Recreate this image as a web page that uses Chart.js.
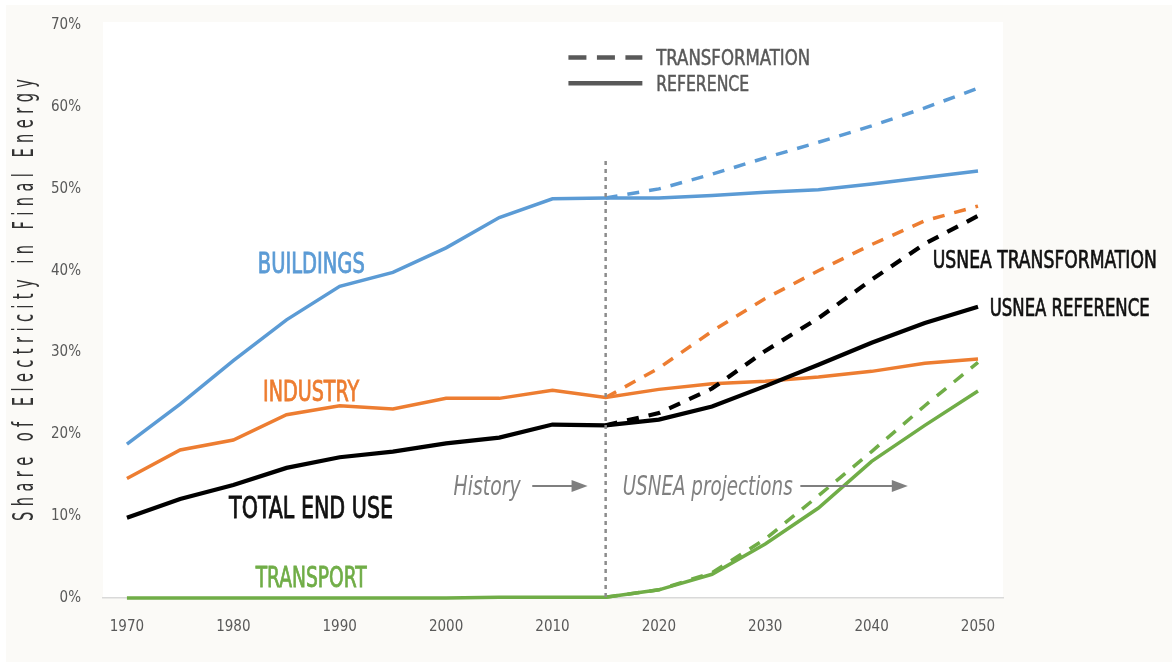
<!DOCTYPE html>
<html lang="en">
<head>
  <meta charset="UTF-8" />
  <title>Share of Electricity in Final Energy</title>
  <script src="https://cdn.jsdelivr.net/npm/chart.js"></script>
  <style>
    body { margin: 0; background: #fff; }
    canvas { display: block; }
  </style>
</head>
<body>
  <canvas id="chart" width="1172" height="664"></canvas>
  <script>
    // history + reference years, and the transformation years
    const years = [1970, 1975, 1980, 1985, 1990, 1995, 2000, 2005, 2010, 2015, 2020, 2025, 2030, 2035, 2040, 2045, 2050];
    const projYears = [2015, 2020, 2025, 2030, 2035, 2040, 2045, 2050];
    const xTicks = [1970, 1980, 1990, 2000, 2010, 2020, 2030, 2040, 2050];
    const yTicks = [0, 10, 20, 30, 40, 50, 60, 70];

    // reference (solid)
    const buildingsRef = [18.8, 23.7, 29.0, 34.0, 38.1, 39.8, 42.8, 46.5, 48.8, 48.9, 48.9, 49.2, 49.6, 49.9, 50.6, 51.4, 52.2];
    const industryRef = [14.6, 18.1, 19.3, 22.4, 23.5, 23.1, 24.4, 24.4, 25.4, 24.5, 25.5, 26.2, 26.5, 27.0, 27.7, 28.7, 29.2];
    const totalRef = [9.8, 12.1, 13.8, 15.9, 17.2, 17.9, 18.9, 19.6, 21.2, 21.1, 21.8, 23.4, 25.9, 28.5, 31.2, 33.6, 35.6];
    const transportRef = [0, 0, 0, 0, 0, 0, 0, 0.1, 0.1, 0.1, 1.0, 2.9, 6.6, 11.0, 16.7, 21.1, 25.3];

    // transformation (dashed)
    const buildingsTr = [48.9, 50.0, 51.8, 53.8, 55.7, 57.7, 59.9, 62.3];
    const industryTr = [24.5, 28.1, 32.6, 36.6, 40.0, 43.2, 46.1, 47.9];
    const totalTr = [21.1, 22.6, 25.6, 30.2, 34.2, 38.9, 43.3, 46.7];
    const transportTr = [0.1, 1.0, 3.1, 7.2, 12.5, 17.9, 23.5, 28.8];

    const historyEnd = 2015;

    const BLUE = '#5b9bd5', ORANGE = '#ed7d31', BLACK = '#000000', GREEN = '#70ad47';
    const FONT = "'DejaVu Sans Condensed', 'Liberation Sans Narrow', sans-serif";

    function pts(xs, ys) {
      return xs.map((x, i) => ({ x: x, y: ys[i] }));
    }

    function ref(data, color, w) {
      return { data: pts(years, data), borderColor: color, borderWidth: w, pointRadius: 0, tension: 0, fill: false, clip: false };
    }
    function tr(data, color, w) {
      return { data: pts(projYears, data), borderColor: color, borderWidth: w, borderDash: [12, 10], pointRadius: 0, tension: 0, fill: false, clip: false };
    }

    // text squeezed to a given width (the original type is a narrow condensed face)
    function text(ctx, str, x, y, font, color, width, weight) {
      ctx.save();
      ctx.font = font;
      ctx.fillStyle = color;
      ctx.strokeStyle = color;
      ctx.textAlign = 'left';
      ctx.textBaseline = 'alphabetic';
      const w = ctx.measureText(str).width;
      ctx.translate(x, y);
      if (width) ctx.scale(width / w, 1);
      ctx.fillText(str, 0, 0);
      if (weight) {
        ctx.lineWidth = weight;
        ctx.strokeText(str, 0, 0);
      }
      ctx.restore();
    }

    function arrow(ctx, x1, x2, y) {
      ctx.save();
      ctx.strokeStyle = '#7f7f7f';
      ctx.fillStyle = '#7f7f7f';
      ctx.lineWidth = 2;
      ctx.beginPath();
      ctx.moveTo(x1, y);
      ctx.lineTo(x2 - 14, y);
      ctx.stroke();
      ctx.beginPath();
      ctx.moveTo(x2 - 16, y - 6);
      ctx.lineTo(x2, y);
      ctx.lineTo(x2 - 16, y + 6);
      ctx.closePath();
      ctx.fill();
      ctx.restore();
    }

    const backdrop = {
      id: 'backdrop',
      beforeDraw(chart) {
        const { ctx, chartArea: a } = chart;
        ctx.save();
        ctx.fillStyle = '#ffffff';
        ctx.fillRect(0, 0, chart.width, chart.height);
        ctx.fillStyle = '#fbfaf7';
        ctx.fillRect(6, 5, chart.width - 6, chart.height - 7);
        ctx.fillStyle = '#ffffff';
        ctx.fillRect(a.left, a.top, a.right - a.left, a.bottom - a.top);
        ctx.restore();
      }
    };

    const notes = {
      id: 'notes',
      afterDatasetsDraw(chart) {
        const { ctx, scales: { x, y } } = chart;
        const X = v => x.getPixelForValue(v);
        const Y = v => y.getPixelForValue(v);

        // history / projection divider
        ctx.save();
        ctx.strokeStyle = '#8c8c8c';
        ctx.lineWidth = 2.5;
        ctx.setLineDash([4, 4]);
        ctx.beginPath();
        ctx.moveTo(X(historyEnd), Y(53.4));
        ctx.lineTo(X(historyEnd), Y(0));
        ctx.stroke();
        ctx.restore();

        // sector labels
        text(ctx, 'BUILDINGS', X(1982.3), Y(39.7), '28px ' + FONT, BLUE, 107, 0.8);
        text(ctx, 'INDUSTRY', X(1982.8), Y(24.1), '28px ' + FONT, ORANGE, 96, 0.8);
        text(ctx, 'TOTAL END USE', X(1979.6), Y(9.8), '30px ' + FONT, '#111111', 164, 0.8);
        text(ctx, 'TRANSPORT', X(1982.1), Y(1.3), '28px ' + FONT, GREEN, 111, 0.8);

        // history / projections
        text(ctx, 'History', X(2000.7), Y(12.6), 'italic 27px ' + FONT, '#808080', 67);
        arrow(ctx, X(2008.1), X(2013.3), Y(13.7));
        text(ctx, 'USNEA projections', X(2016.6), Y(12.6), 'italic 27px ' + FONT, '#808080', 170);
        arrow(ctx, X(2033.3), X(2043.4), Y(13.7));

        // legend
        ctx.save();
        ctx.strokeStyle = '#595959';
        ctx.lineWidth = 4.5;
        ctx.setLineDash([18, 10.5]);
        ctx.beginPath();
        ctx.moveTo(X(2011.5), Y(66.05));
        ctx.lineTo(X(2018.45), Y(66.05));
        ctx.stroke();
        ctx.setLineDash([]);
        ctx.beginPath();
        ctx.moveTo(X(2011.5), Y(62.9));
        ctx.lineTo(X(2018.45), Y(62.9));
        ctx.stroke();
        ctx.restore();
        text(ctx, 'TRANSFORMATION', X(2019.75), Y(65.2), '22px ' + FONT, '#595959', 154, 0.5);
        text(ctx, 'REFERENCE', X(2019.75), Y(62.0), '22px ' + FONT, '#595959', 93, 0.5);

        // total end use labels
        text(ctx, 'USNEA TRANSFORMATION', X(2045.75), Y(40.3), '25px ' + FONT, '#111111', 224, 0.7);
        text(ctx, 'USNEA REFERENCE', X(2051.1), Y(34.5), '25px ' + FONT, '#111111', 160, 0.7);
      },
      afterDraw(chart) {
        // spaced-out y axis title, narrow glyphs
        const ctx = chart.ctx;
        const title = 'Share of Electricity in Final Energy';
        const span = 442;
        const squeeze = 0.56;
        ctx.save();
        ctx.font = '29px ' + FONT;
        ctx.fillStyle = '#333333';
        ctx.textBaseline = 'alphabetic';
        ctx.translate(33, 300);
        ctx.rotate(-Math.PI / 2);
        const chars = [...title];
        const widths = chars.map(c => ctx.measureText(c).width * squeeze);
        const total = widths.reduce((s, w) => s + w, 0);
        const gap = (span - total) / (chars.length - 1);
        let cx = -span / 2;
        chars.forEach((c, i) => {
          ctx.save();
          ctx.translate(cx, 0);
          ctx.scale(squeeze, 1);
          ctx.fillText(c, 0, 0);
          ctx.restore();
          cx += widths[i] + gap;
        });
        ctx.restore();
      }
    };

    new Chart(document.getElementById('chart'), {
      type: 'line',
      data: {
        datasets: [
          tr(buildingsTr, BLUE, 3.5),
          ref(buildingsRef, BLUE, 3.5),
          tr(totalTr, BLACK, 4.2),
          ref(totalRef, BLACK, 4.2),
          ref(industryRef, ORANGE, 3.5),
          tr(industryTr, ORANGE, 3.5),
          ref(transportRef, GREEN, 3.5),
          tr(transportTr, GREEN, 3.5)
        ]
      },
      options: {
        responsive: false,
        animation: false,
        layout: { padding: { left: 0, top: 22, right: 169, bottom: 26 } },
        plugins: { legend: { display: false }, tooltip: { enabled: false } },
        scales: {
          x: {
            type: 'linear',
            min: 1967.75,
            max: 2052.35,
            afterBuildTicks: s => { s.ticks = xTicks.map(v => ({ value: v })); },
            afterFit: s => { s.height = 40; s.paddingLeft = 0; s.paddingRight = 0; },
            grid: { display: false, drawTicks: false },
            border: { display: true, color: '#d9d9d9', width: 1.5 },
            ticks: { padding: 20, color: '#595959', font: { family: FONT, size: 15 }, maxRotation: 0, callback: v => String(v) }
          },
          y: {
            min: 0,
            max: 70.4,
            afterBuildTicks: s => { s.ticks = yTicks.map(v => ({ value: v })); },
            afterFit: s => { s.width = 103; s.paddingTop = 0; s.paddingBottom = 0; },
            grid: { display: false, drawTicks: false },
            border: { display: false },
            ticks: { padding: 22, color: '#595959', font: { family: FONT, size: 15 }, callback: v => v + '%' }
          }
        }
      },
      plugins: [backdrop, notes]
    });
  </script>
</body>
</html>
